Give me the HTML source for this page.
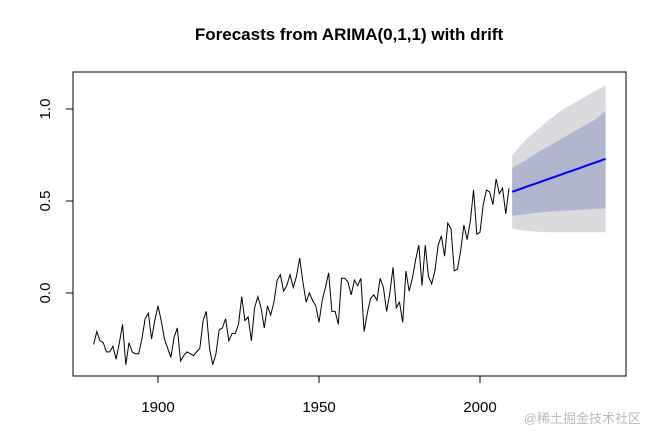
<!DOCTYPE html>
<html><head><meta charset="utf-8"><style>
body{margin:0;background:#fff;}
svg{display:block;font-family:"Liberation Sans",Arial,sans-serif;}
</style></head><body>
<svg id="chart" width="647" height="431">
<text x="349" y="40" text-anchor="middle" font-size="17" font-weight="bold">Forecasts from ARIMA(0,1,1) with drift</text>
<g id="bands"></g>
<g id="lines"></g>
<rect x="73" y="72" width="553" height="304" fill="none" stroke="#000" stroke-width="1"/>
<g id="axes"></g>
<text x="641" y="423" text-anchor="end" font-size="13" fill="#bbb" font-family="'Liberation Sans','Noto Sans CJK SC',sans-serif">@稀土掘金技术社区</text>
</svg>
<script>
const startYear = 1880;
const temps = [-0.28,-0.21,-0.26,-0.27,-0.32,-0.32,-0.29,-0.36,-0.27,-0.17,-0.39,-0.27,-0.32,-0.33,-0.33,-0.25,-0.14,-0.11,-0.25,-0.15,-0.07,-0.15,-0.25,-0.30,-0.35,-0.24,-0.19,-0.37,-0.34,-0.32,-0.33,-0.34,-0.32,-0.30,-0.15,-0.10,-0.30,-0.39,-0.33,-0.20,-0.19,-0.14,-0.26,-0.22,-0.22,-0.17,-0.02,-0.15,-0.13,-0.26,-0.08,-0.02,-0.08,-0.19,-0.07,-0.12,-0.05,0.07,0.10,0.01,0.04,0.10,0.03,0.09,0.19,0.06,-0.05,0.00,-0.04,-0.07,-0.16,-0.04,0.03,0.11,-0.10,-0.10,-0.17,0.08,0.08,0.06,-0.01,0.07,0.04,0.08,-0.21,-0.11,-0.03,-0.01,-0.04,0.08,0.03,-0.10,0.00,0.14,-0.08,-0.05,-0.16,0.12,0.01,0.08,0.18,0.26,0.04,0.26,0.09,0.05,0.12,0.26,0.31,0.20,0.38,0.35,0.12,0.13,0.23,0.37,0.29,0.39,0.56,0.32,0.33,0.48,0.56,0.55,0.48,0.62,0.54,0.57,0.43,0.57];
const fcStart = 2010;
const fcMean = [0.550,0.556,0.562,0.568,0.575,0.581,0.587,0.593,0.599,0.605,0.612,0.618,0.624,0.630,0.636,0.642,0.649,0.655,0.661,0.667,0.673,0.679,0.686,0.692,0.698,0.704,0.710,0.716,0.723,0.729];
const hi80 = [0.68,0.69,0.70,0.71,0.72,0.73,0.745,0.755,0.765,0.775,0.785,0.795,0.805,0.815,0.825,0.835,0.845,0.855,0.865,0.875,0.885,0.895,0.905,0.915,0.925,0.935,0.945,0.96,0.975,0.99];
const lo80 = [0.42,0.422,0.424,0.426,0.428,0.43,0.432,0.434,0.436,0.438,0.44,0.442,0.443,0.444,0.445,0.446,0.447,0.448,0.449,0.45,0.451,0.452,0.453,0.454,0.455,0.456,0.457,0.458,0.459,0.46];
const hi95 = [0.75,0.77,0.79,0.81,0.83,0.845,0.86,0.875,0.89,0.905,0.92,0.935,0.95,0.96,0.975,0.99,1.0,1.01,1.02,1.03,1.04,1.05,1.06,1.07,1.08,1.09,1.10,1.11,1.12,1.13];
const lo95 = [0.35,0.347,0.344,0.341,0.339,0.337,0.335,0.334,0.333,0.332,0.331,0.331,0.330,0.330,0.330,0.330,0.330,0.330,0.330,0.330,0.330,0.330,0.330,0.330,0.330,0.330,0.330,0.330,0.330,0.330];
const xTicks = [1900,1950,2000];
const yTicks = [0.0,0.5,1.0];
const yTickLabels = ["0.0","0.5","1.0"];

const NS="http://www.w3.org/2000/svg";
const xs = y => 158 + (y-1900)*(322/100);
const ys = v => 293 - v*184;
function mk(tag, attrs, parent){const e=document.createElementNS(NS,tag);for(const k in attrs)e.setAttribute(k,attrs[k]);document.getElementById(parent).appendChild(e);return e;}
function band(hi, lo, color, name){
  let pts=[];
  hi.forEach((v,i)=>pts.push(xs(fcStart+i)+","+ys(v)));
  for(let i=lo.length-1;i>=0;i--)pts.push(xs(fcStart+i)+","+ys(lo[i]));
  const p=mk("polygon",{points:pts.join(" "),fill:color},"bands");
  
  
}
band(hi95, lo95, "#dbdbdf", "interval-95");
band(hi80, lo80, "#b1b5ce", "interval-80");
const obs=mk("polyline",{points:temps.map((v,i)=>xs(startYear+i)+","+ys(v)).join(" "),fill:"none",stroke:"#000","stroke-width":1},"lines");


const fl=mk("polyline",{points:fcMean.map((v,i)=>xs(fcStart+i)+","+ys(v)).join(" "),fill:"none",stroke:"#0000ff","stroke-width":2},"lines");


xTicks.forEach(t=>{
  const l=mk("line",{x1:xs(t),x2:xs(t),y1:376,y2:383,stroke:"#000"},"axes");
  
  
  const tx=mk("text",{x:xs(t),y:412,"text-anchor":"middle","font-size":15},"axes");
  tx.textContent=t;
  
  
});
yTicks.forEach((t,i)=>{
  const l=mk("line",{x1:66,x2:73,y1:ys(t),y2:ys(t),stroke:"#000"},"axes");
  
  
  const tx=mk("text",{x:50,y:ys(t),"text-anchor":"middle","font-size":15,transform:"rotate(-90 50 "+ys(t)+")"},"axes");
  tx.textContent=yTickLabels[i];
  
  
});
</script>
</body></html>
